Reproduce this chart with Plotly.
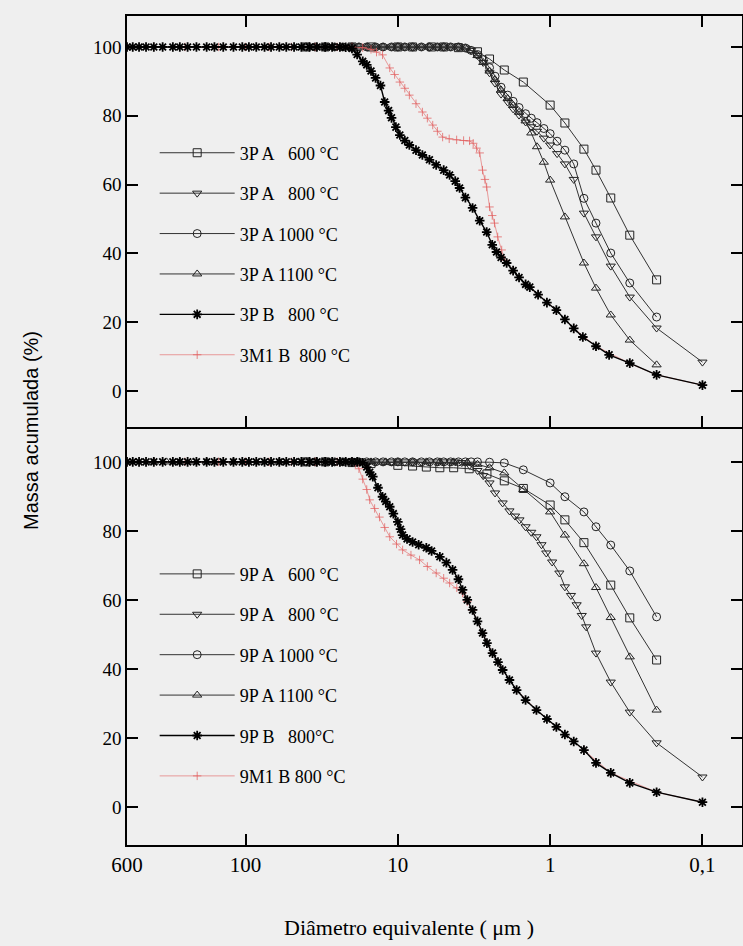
import math
import plotly.graph_objects as go

# ---------------- DATA (diameter µm, cumulative mass %) ----------------
P3A600 = [(40,100),(30,100),(20,100),(15,100),(10,100),(8,100),(6,100),(5,100),(4,99.8),(3,98.6),
          (2.5,96.5),(2,93.3),(1.5,89.8),(1,83.1),(0.8,77.9),(0.6,70.3),(0.5,64.2),(0.4,56.1),(0.3,45.3),(0.2,32.3)]

P3A800 = [(40,100),(35,100),(30,100),(26,100),(23,100),(20,100),(18,100),(16,100),(14,100),(12.5,100),(11,100),
          (10,100),(9,100),(8,100),(7,100),(6.2,100),(5.5,100),(5,100),(4.5,100),(4,100),(3.6,99.7),
          (3.3,99),(3.0,97.5),(2.75,95.5),(2.5,92.5),(2.3,89.5),(2.1,86.3),(1.9,84),(1.75,82),(1.6,80.2),
          (1.45,78.2),(1.33,76.8),(1.22,75.5),(1.1,73.5),(1.0,71.5),(0.9,69),(0.8,66),(0.7,61.5),(0.6,51.7),
          (0.5,44.8),(0.4,36.3),(0.3,27.3),(0.2,18.3),(0.1,8.4)]

P3A1000 = [(40,100),(35,100),(30,100),(26,100),(23,100),(20,100),(18,100),(16,100),(14,100),(12.5,100),(11,100),
           (10,100),(9,100),(8,100),(7,100),(6.2,100),(5.5,100),(5,100),(4.5,100),(4,100),(3.6,99.7),
           (3.3,99),(3.0,97.8),(2.75,96.3),(2.5,94),(2.3,91.5),(2.1,88.3),(1.9,86),(1.75,84.2),(1.6,82.4),
           (1.45,80.6),(1.33,79.3),(1.22,78),(1.1,76.3),(1.0,74.8),(0.9,72.6),(0.8,70),(0.7,66),(0.6,56),
           (0.5,48.8),(0.4,40.1),(0.3,31.4),(0.2,21.5)]

P3A1100 = [(40,100),(35,100),(30,100),(26,100),(23,100),(20,100),(18,100),(16,100),(14,100),(12.5,100),(11,100),
           (10,100),(9,100),(8,100),(7,100),(6.2,100),(5.5,100),(5,100),(4.5,100),(4,100),(3.6,99.7),
           (3.3,99),(3.0,97.5),(2.75,95.5),(2.5,93),(2.3,90.5),(2.1,87.5),(1.9,85),(1.75,83),(1.6,81),
           (1.45,78.5),(1.33,75),(1.22,71),(1.1,66.5),(1.0,61.3),(0.8,50.6),(0.6,37.2),(0.5,29.9),
           (0.4,22.1),(0.3,14.8),(0.2,7.6)]

P3B800 = [(600,100),(550,100),(500,100),(450,100),(400,100),(350,100),(300,100),(270,100),(240,100),(210,100),
          (180,100),(160,100),(140,100),(120,100),(105,100),(95,100),(85,100),(75,100),(68,100),(60,100),
          (54,100),(48,100),(43,100),(38,100),(34,100),(30,100),(27,100),(24,100),(22,99.9),(20,99.6),
          (18.5,97.8),(17,95.8),(16,94.8),(15,93),(14,91),(13,88.8),(12.2,84),(11.5,81.5),(11,79.4),
          (10.3,76.7),(9.7,74.4),(9,72.8),(8.4,71.5),(7.6,70),(6.9,68.6),(6.2,67.2),(5.6,65.7),(5,64.2),
          (4.57,62.8),(4.2,61),(3.93,59),(3.6,56.2),(3.23,53.2),(2.9,49.5),(2.61,46.2),(2.4,42.5),
          (2.25,40.4),(2.1,38.8),(1.93,37.2),(1.75,35),(1.6,33),(1.45,31),(1.36,30.2),(1.2,28),(1.05,25.7),
          (0.91,23.5),(0.8,20.8),(0.7,18.2),(0.61,15.7),(0.5,13),(0.41,10.5),(0.3,8.1),(0.2,4.7),(0.1,1.7)]

P3M1B800 = [(600,100),(400,100),(250,100),(150,100),(100,100),(70,100),(50,100),(35,100),(25,100),(20,100),
            (17,99.8),(15,99.3),(13.8,98.5),(12.6,97.7),(11.3,93.9),(10.5,92),(9.7,89.8),(9,88),(8.4,86),
            (7.6,83.5),(6.9,81.1),(6.4,79.3),(5.9,77.3),(5.5,75.5),(5.08,73.8),(4.6,73.3),(4.11,73),
            (3.7,72.8),(3.38,72.7),(3.2,72),(3.04,70.6),(2.9,69.2),(2.78,64.2),(2.68,61.5),(2.61,59.3),
            (2.5,53.5),(2.4,51),(2.32,48.8),(2.21,44.8),(2.08,41),(1.99,38),(1.75,35),(1.45,31),(1.2,28),
            (0.91,23.5),(0.7,18.2),(0.5,13),(0.3,8),(0.2,4.7),(0.1,1.7)]

P9A600 = [(40,100),(30,100),(20,99.8),(15,99.5),(10,99),(8,98.8),(6.5,98.5),(5.3,98.3),(4.3,98.3),(3.4,98),
          (2.6,96.5),(2,94.5),(1.5,92.3),(1,87.5),(0.8,83.2),(0.6,76.6),(0.4,64.3),(0.3,54.8),(0.2,42.6)]

P9A800 = [(40,100),(35,100),(30,100),(26,100),(23,100),(20,100),(18,100),(16,100),(14,100),(12.5,100),(11,100),
          (10,100),(9,100),(8,100),(7,100),(6.2,100),(5.5,100),(5,100),(4.5,100),(4.2,100),
          (3.8,99.8),(3.38,99),(3.0,97.5),(2.75,96),(2.5,93.9),(2.3,91),(2.05,88.1),(1.85,85.8),(1.7,84.3),
          (1.59,83.2),(1.45,81.2),(1.33,79.6),(1.23,78.3),(1.14,76),(1.06,73.6),(0.97,71),(0.87,67.8),
          (0.8,63.8),(0.73,61.3),(0.67,58.6),(0.62,55.5),(0.58,52.2),(0.5,44.6),(0.4,36.2),(0.3,27.5),
          (0.2,18.6),(0.1,8.7)]

P9A1000 = [(40,100),(35,100),(30,100),(26,100),(23,100),(20,100),(18,100),(16,100),(14,100),(12.5,100),(11,100),
           (10,100),(9,100),(8,100),(7,100),(6.2,100),(5.5,100),(5,100),(4.5,100),(4,100),(3.6,100),
           (3.3,100),(3,100),(2.5,99.9),(2,99.7),(1.5,97.7),(1,93.9),(0.8,89.9),(0.6,85.5),(0.5,81.2),
           (0.4,75.9),(0.3,68.4),(0.2,55.1)]

P9A1100 = [(400,100),(330,100),(270,100),(220,100),(180,100),(150,100),(120,100),(100,100),(80,100),(60,100),
           (45,100),(35,100),(28,100),(22,100),(18,100),(15,100),(12,100),(10,100),(8,100),(6.5,100),
           (5.3,100),(4.3,100),(3.5,99.8),(3,99.3),(2.5,98.3),(2,96.8),(1.5,92),(1,85.5),(0.8,78.8),
           (0.6,70.5),(0.5,63.6),(0.4,54.9),(0.3,43.5),(0.2,28.1)]

P9B800 = [(600,100),(550,100),(500,100),(450,100),(400,100),(350,100),(300,100),(270,100),(240,100),(210,100),
          (180,100),(160,100),(140,100),(120,100),(105,100),(95,100),(85,100),(75,100),(68,100),(60,100),
          (54,100),(48,100),(43,100),(38,100),(34,100),(30,100),(27,100),(24,100),(22,100),(20,100),
          (18.5,100),(17,99.7),(16,98.5),(15.3,97),(14.6,95.7),(13.5,92.5),(12.6,89.9),(12,88.5),(11.3,87),
          (10.7,85),(10,82.6),(9.6,80.5),(9.3,78.8),(8.7,77.7),(8,76.8),(7.3,76),(6.5,75.1),(6,74.2),
          (5.3,72.5),(4.8,70.8),(4.37,68.7),(4,66),(3.76,62.9),(3.5,60),(3.23,57.1),(3,53.8),(2.78,50.4),
          (2.6,47.5),(2.39,44.6),(2.2,42),(2.05,39.7),(1.85,36.8),(1.66,33.9),(1.45,31),(1.23,28.1),
          (1.05,25.5),(0.91,23.2),(0.8,21),(0.7,19),(0.6,16.5),(0.5,12.8),(0.4,9.9),(0.3,7),(0.2,4.3),(0.1,1.4)]

P9M1B800 = [(600,100),(400,100),(250,100),(150,100),(100,100),(70,100),(50,100),(35,100),(25,100),(20,100),
            (19,99.5),(18,98),(17,95),(16,92),(15.3,89),(14.2,86.5),(13.2,84),(12.2,81),(11.3,78.3),
            (10.2,76.2),(9.3,74.5),(8.2,73),(7.2,71.6),(6.4,69.7),(5.6,67.8),(5,66.3),(4.57,64.9),(4.1,63.5),
            (3.76,62),(3.5,59.5),(3.23,57),(2.78,50.4),(2.39,44.6),(2.05,39.7),(1.66,33.9),(1.23,28.1),
            (0.91,23.2),(0.6,16.5),(0.4,9.9),(0.2,4.3),(0.1,1.4)]

X_TICKVALS = [600, 100, 10, 1, 0.1]
X_TICKTEXT = ["600", "100", "10", "1", "0,1"]
Y_TICKVALS = [0, 20, 40, 60, 80, 100]

NB = "\u00a0"
TOP_NAMES = [f"3P A{NB*3}600 °C", f"3P A{NB*3}800 °C", "3P A 1000 °C", "3P A 1100 °C",
             f"3P B{NB*3}800 °C", f"3M1 B{NB*2}800 °C"]
BOT_NAMES = [f"9P A{NB*3}600 °C", f"9P A{NB*3}800 °C", "9P A 1000 °C", "9P A 1100 °C",
             f"9P B{NB*3}800°C", "9M1 B 800 °C"]

# ---------------- STYLE ----------------
SERIF = "Liberation Serif, Times New Roman, serif"
SANS = "Liberation Sans, Arial, sans-serif"
BG = "#efefef"
RED = "rgba(226,95,95,0.75)"

fig = go.Figure()

def add(series, name, sym, legend, xa, ya, rank, kind="A"):
    d = [p[0] for p in series]
    m = [p[1] for p in series]
    if kind == "A":
        marker = dict(symbol=sym, size=8, color="#222", line=dict(color="#222", width=1))
        line = dict(color="#333", width=1)
    elif kind == "B":
        marker = dict(symbol="asterisk", size=8, color="#000", line=dict(color="#000", width=1.8))
        line = dict(color="#000", width=1.4)
    else:
        marker = dict(symbol="cross-thin", size=6, color=RED, line=dict(color=RED, width=1))
        line = dict(color=RED, width=0.8)
    fig.add_trace(go.Scatter(x=d, y=m, mode="lines+markers", name=name, marker=marker, line=line,
                             xaxis=xa, yaxis=ya, legend=legend, legendrank=rank,
                             legendgroup=f"{legend}{rank}"))

# top panel (x2, y2)
add(P3A600, TOP_NAMES[0], "square-open", "legend", "x2", "y2", 1)
add(P3A800, TOP_NAMES[1], "triangle-down-open", "legend", "x2", "y2", 2)
add(P3A1000, TOP_NAMES[2], "circle-open", "legend", "x2", "y2", 3)
add(P3A1100, TOP_NAMES[3], "triangle-up-open", "legend", "x2", "y2", 4)
add(P3M1B800, TOP_NAMES[5], None, "legend", "x2", "y2", 6, kind="M")
add(P3B800, TOP_NAMES[4], None, "legend", "x2", "y2", 5, kind="B")
# bottom panel (x, y)
add(P9A600, BOT_NAMES[0], "square-open", "legend2", "x", "y", 1)
add(P9A800, BOT_NAMES[1], "triangle-down-open", "legend2", "x", "y", 2)
add(P9A1000, BOT_NAMES[2], "circle-open", "legend2", "x", "y", 3)
add(P9A1100, BOT_NAMES[3], "triangle-up-open", "legend2", "x", "y", 4)
add(P9M1B800, BOT_NAMES[5], None, "legend2", "x", "y", 6, kind="M")
add(P9B800, BOT_NAMES[4], None, "legend2", "x", "y", 5, kind="B")

xrange_ = [math.log10(600), math.log10(0.055)]

xcommon = dict(type="log", range=xrange_, showgrid=False, zeroline=False, showline=True,
               linecolor="black", linewidth=1.5, ticks="inside", ticklen=11, tickwidth=1.5,
               tickcolor="black", tickvals=X_TICKVALS, ticktext=X_TICKTEXT,
               tickfont=dict(family=SERIF, size=21, color="black"), domain=[0, 1])
ycommon = dict(showgrid=False, zeroline=False, showline=True, linecolor="black", linewidth=1.5,
               ticks="inside", ticklen=11, tickwidth=1.5, tickcolor="black",
               tickvals=Y_TICKVALS, mirror="ticks",
               tickfont=dict(family=SERIF, size=19, color="black"))

split = 0.5042
fig.update_layout(
    template="none",
    width=743, height=946,
    margin=dict(l=127, r=1, t=16, b=101),
    paper_bgcolor=BG, plot_bgcolor=BG,
    showlegend=True,
    # bottom x axis: no mirror (the top panel's axis line forms the shared boundary)
    xaxis=dict(**xcommon, anchor="y", mirror=False),
    xaxis2=dict(**xcommon, anchor="y2", mirror="ticks", showticklabels=False),
    yaxis=dict(**ycommon, domain=[0, split], range=[-11, 110.1], anchor="x"),
    yaxis2=dict(**ycommon, domain=[split, 1], range=[-10.47, 109], anchor="x2"),
    legend=dict(x=0.045, y=0.857, xanchor="left", yanchor="top", bgcolor="rgba(0,0,0,0)",
                font=dict(family=SERIF, size=18, color="black"), traceorder="grouped",
                tracegroupgap=14, itemwidth=75, borderwidth=0),
    legend2=dict(x=0.045, y=0.349, xanchor="left", yanchor="top", bgcolor="rgba(0,0,0,0)",
                 font=dict(family=SERIF, size=18, color="black"), traceorder="grouped",
                 tracegroupgap=14, itemwidth=75, borderwidth=0),
    annotations=[
        dict(text="Massa acumulada (%)", x=-0.157, y=0.5, xref="paper", yref="paper",
             textangle=-90, showarrow=False, xanchor="center", yanchor="middle",
             font=dict(family=SANS, size=20, color="black")),
        dict(text="Diâmetro equivalente ( μm )", x=0.459, y=-0.10, xref="paper", yref="paper",
             showarrow=False, xanchor="center", yanchor="middle",
             font=dict(family=SERIF, size=22, color="black")),
    ],
)

fig.write_html("out.html")
